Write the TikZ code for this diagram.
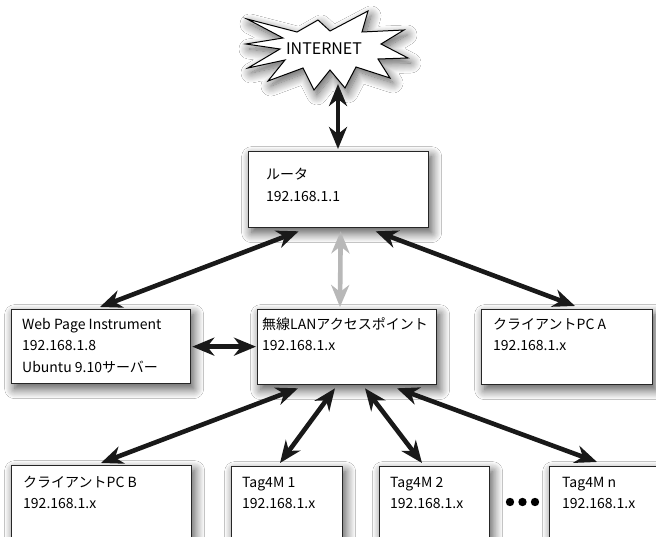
\documentclass[tikz,border=0pt]{standalone}
\usepackage{fontspec}
\setmainfont{Noto Sans CJK JP}
\usetikzlibrary{arrows.meta,shadows.blur}
\begin{document}
\begin{tikzpicture}[x=1pt,y=-1pt,
  box/.style={draw=black!85, line width=1.3pt, fill=white, anchor=north west,
    inner sep=0pt, blur shadow={shadow xshift=3pt, shadow yshift=-5pt, shadow blur radius=10pt, shadow blur steps=14, shadow opacity=70}},
  txt/.style={anchor=north west, align=left, inner sep=0pt,
    font=\fontsize{14}{21.5}\selectfont},
  link/.style={line width=4.6pt, black!90,
    {Stealth[length=22pt,width=18pt,inset=7pt]}-{Stealth[length=22pt,width=18pt,inset=7pt]}},
  glink/.style={link, black!28},
]
\clip (0,0) rectangle (656,537);
\fill[white] (0,0) rectangle (656,537);

% INTERNET starburst
\filldraw[fill=white, draw=black, line width=1pt,
  blur shadow={shadow xshift=3pt, shadow yshift=-5pt, shadow blur radius=10pt, shadow blur steps=14, shadow opacity=65}]
  (247,19) -- (297,32) -- (318,20) -- (330,31) -- (368,11) -- (362,32) -- (404,30)
  -- (381,44) -- (408,58) -- (378,59) -- (390,78) -- (356,67) -- (345,88) -- (330,70)
  -- (314,90) -- (303,68) -- (268,81) -- (285,60) -- (248,68) -- (280,49) -- (246,44)
  -- (283,38) -- cycle;
\node[font=\fontsize{16}{18}\selectfont, inner sep=0pt] (internet) at (324,49) {INTERNET};
\coordinate (inetb) at (338,84);

% boxes
\node[box, minimum width=180pt, minimum height=76pt,
  label={[txt, xshift=18pt, yshift=-17pt]north west:{ルータ\\192.168.1.1}}] (router) at (248,151) {};
\node[box, minimum width=179pt, minimum height=74pt,
  label={[txt, xshift=11pt, yshift=-9pt]north west:{Web Page Instrument\\192.168.1.8\\Ubuntu 9.10サーバー}}] (web) at (11,309) {};
\node[box, minimum width=179pt, minimum height=75pt,
  label={[txt, xshift=5pt, yshift=-8pt]north west:{無線LANアクセスポイント\\192.168.1.x}}] (ap) at (257,309) {};
\node[box, minimum width=171pt, minimum height=75pt,
  label={[txt, xshift=12pt, yshift=-9pt]north west:{クライアントPC A\\192.168.1.x}}] (pca) at (481,309) {};

\node[box, minimum width=180pt, minimum height=100pt,
  label={[txt, xshift=12pt, yshift=-11pt]north west:{クライアントPC B\\192.168.1.x}}] (pcb) at (11,465) {};
\node[box, minimum width=111pt, minimum height=100pt,
  label={[txt, xshift=11pt, yshift=-11pt]north west:{Tag4M 1\\192.168.1.x}}] (tag1) at (231,466) {};
\node[box, minimum width=110pt, minimum height=100pt,
  label={[txt, xshift=11pt, yshift=-11pt]north west:{Tag4M 2\\192.168.1.x}}] (tag2) at (379,466) {};
\node[box, minimum width=120pt, minimum height=100pt,
  label={[txt, xshift=13pt, yshift=-11pt]north west:{Tag4M n\\192.168.1.x}}] (tagn) at (549,466) {};

% dots
\fill (510,502) circle (4.2pt) (522.5,502) circle (4.2pt) (535,502) circle (4.2pt);

% connectors
\draw[link] (inetb) -- ([yshift=2pt]router.north -| inetb);
\draw[link] ([xshift=-40pt,yshift=-3pt]router.south) -- ([xshift=89pt,yshift=2pt]web.north west);
\draw[link] ([xshift=37pt,yshift=-3pt]router.south) -- ([xshift=94pt,yshift=3pt]pca.north west);
\draw[glink] ([xshift=2pt,yshift=-3pt]router.south) -- ([xshift=83pt,yshift=2pt]ap.north west);
\draw[link] ([xshift=1pt]web.east) -- ([xshift=-1pt]ap.west |- web.east);
\draw[link] ([xshift=41pt,yshift=-3pt]ap.south west) -- ([xshift=90pt,yshift=2pt]pcb.north west);
\draw[link] ([xshift=78pt,yshift=-3pt]ap.south west) -- ([xshift=49pt,yshift=3pt]tag1.north west);
\draw[link] ([xshift=108pt,yshift=-3pt]ap.south west) -- ([xshift=43pt,yshift=3pt]tag2.north west);
\draw[link] ([xshift=140pt,yshift=-3pt]ap.south west) -- ([xshift=48pt,yshift=4pt]tagn.north west);
\end{tikzpicture}
\end{document}
